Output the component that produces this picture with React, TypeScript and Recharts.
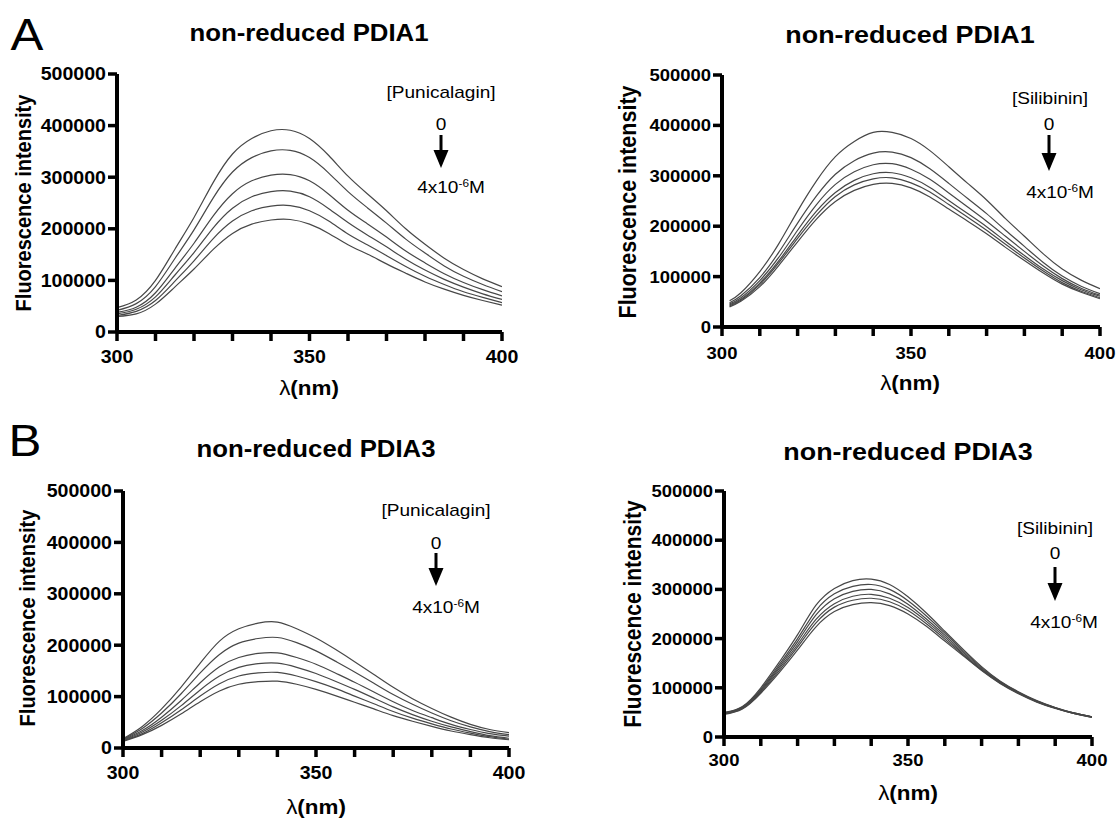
import React from 'react';
import { LineChart, Line, XAxis, YAxis, ReferenceLine } from 'recharts';

const SX = 1.12;
const FONT = '"Liberation Sans", Arial, Helvetica, sans-serif';

// ---------- data (fluorescence intensity, in thousands) ----------
const wl = [300, 305, 310, 315, 320, 325, 330, 335, 340, 345, 350, 355, 360, 365, 370, 375, 380, 385, 390, 395, 400];
const wlSil1 = [302, 305, 310, 315, 320, 325, 330, 335, 340, 345, 350, 355, 360, 365, 370, 375, 380, 385, 390, 395, 400];

// A: PDIA1 + Punicalagin
const pdia1Puni0 = [47, 62, 100, 160, 222, 290, 345, 375, 390, 391, 375, 342, 302, 268, 235, 200, 170, 143, 121, 103, 88];
const pdia1Puni1 = [42, 55, 88, 142, 198, 260, 310, 338, 351, 352, 338, 308, 272, 241, 211, 180, 153, 128, 108, 92, 78];
const pdia1Puni2 = [38, 48, 76, 123, 172, 225, 268, 293, 304, 305, 293, 267, 236, 210, 184, 157, 134, 113, 96, 82, 70];
const pdia1Puni3 = [35, 44, 68, 110, 154, 202, 240, 262, 272, 273, 262, 239, 212, 188, 165, 141, 120, 102, 87, 74, 63];
const pdia1Puni4 = [32, 40, 61, 98, 138, 181, 215, 235, 244, 245, 235, 215, 190, 169, 148, 127, 108, 92, 78, 67, 57];
const pdia1Puni5 = [30, 35, 54, 87, 122, 160, 191, 209, 217, 218, 209, 191, 169, 151, 132, 114, 97, 83, 71, 61, 52];

// A: PDIA1 + Silibinin
const pdia1Sil0 = [52, 68, 110, 165, 230, 290, 338, 368, 386, 386, 374, 350, 318, 285, 252, 215, 180, 145, 115, 93, 76];
const pdia1Sil1 = [48, 62, 98, 148, 206, 260, 303, 330, 345, 347, 336, 314, 285, 255, 225, 192, 160, 128, 101, 81, 66];
const pdia1Sil2 = [46, 58, 92, 138, 192, 243, 283, 308, 322, 324, 313, 293, 266, 238, 210, 180, 150, 121, 96, 77, 63];
const pdia1Sil3 = [44, 55, 87, 131, 182, 230, 267, 291, 304, 306, 296, 277, 251, 225, 199, 170, 142, 115, 92, 74, 61];
const pdia1Sil4 = [42, 53, 84, 127, 176, 222, 259, 282, 294, 296, 286, 268, 243, 218, 192, 164, 137, 111, 88, 71, 58];
const pdia1Sil5 = [40, 51, 80, 122, 169, 214, 249, 271, 283, 285, 276, 258, 234, 210, 185, 158, 132, 107, 85, 69, 56];

// B: PDIA3 + Punicalagin
const pdia3Puni0 = [18, 42, 76, 118, 165, 208, 232, 243, 245, 232, 214, 192, 168, 143, 118, 96, 77, 60, 46, 36, 30];
const pdia3Puni1 = [17, 38, 68, 105, 146, 182, 204, 213, 215, 205, 189, 169, 148, 126, 104, 85, 68, 53, 41, 32, 26];
const pdia3Puni2 = [16, 34, 60, 92, 127, 158, 176, 184, 185, 176, 163, 146, 128, 109, 90, 73, 59, 46, 36, 28, 23];
const pdia3Puni3 = [15, 31, 54, 82, 113, 140, 157, 164, 165, 157, 145, 130, 114, 97, 80, 65, 52, 41, 32, 24, 19];
const pdia3Puni4 = [14, 28, 49, 74, 101, 125, 140, 146, 147, 140, 129, 116, 101, 86, 71, 58, 47, 37, 29, 22, 17];
const pdia3Puni5 = [13, 26, 44, 66, 90, 111, 124, 129, 130, 124, 114, 102, 89, 76, 63, 52, 42, 33, 26, 20, 16];

// B: PDIA3 + Silibinin
const pdia3Sil0 = [50, 62, 100, 152, 208, 268, 302, 318, 321, 310, 285, 252, 215, 178, 143, 114, 92, 74, 60, 49, 41];
const pdia3Sil1 = [49, 61, 97, 147, 200, 257, 291, 306, 310, 300, 277, 246, 211, 175, 141, 113, 91, 73, 60, 49, 41];
const pdia3Sil2 = [48, 60, 95, 143, 194, 248, 281, 296, 300, 291, 270, 240, 207, 172, 139, 112, 90, 73, 59, 49, 41];
const pdia3Sil3 = [48, 59, 93, 139, 188, 239, 271, 286, 290, 282, 263, 235, 203, 169, 137, 111, 90, 72, 59, 48, 41];
const pdia3Sil4 = [47, 58, 91, 135, 183, 232, 264, 278, 282, 275, 257, 230, 199, 167, 136, 110, 89, 72, 59, 48, 40];
const pdia3Sil5 = [46, 57, 89, 131, 177, 224, 255, 269, 273, 267, 250, 225, 195, 165, 135, 109, 88, 71, 58, 48, 40];

const xTicks = [300, 310, 320, 330, 340, 350, 360, 370, 380, 390, 400];
const xLabelTicks = [300, 350, 400];
const yTicks = [0, 100000, 200000, 300000, 400000, 500000];
const X_MIN = 300, X_MAX = 400, Y_MIN = 0, Y_MAX = 500000;

const titlePDIA1 = 'non-reduced PDIA1';
const titlePDIA3 = 'non-reduced PDIA3';
const yTitle = 'Fluorescence intensity';

type Cfg = {
  x0: number; y0: number; w: number; h: number;
  L: number; R: number; T: number; B: number;
  wl: number[]; series: number[][];
  tickFs: number; xLabOff: number;
};

const YW = 70;
const XH = 40;
const TICK_PX = 9;
const AXIS_W = 4;
const TICK_W = 3.5;

function Panel({ c }: { c: Cfg }) {
  const data = c.wl.map((w, i) => {
    const r: any = { wl: w };
    c.series.forEach((s, j) => { r['s' + j] = s[i] * 1000; });
    return r;
  });
  const margin = {
    left: c.L - c.x0 - YW,
    right: c.x0 + c.w - c.R,
    top: c.T - c.y0,
    bottom: c.y0 + c.h - c.B - XH,
  };
  // tick length converted to data units for each axis
  const tY = (TICK_PX / (c.B - c.T)) * (Y_MAX - Y_MIN);
  const tX = (TICK_PX / (c.R - c.L)) * (X_MAX - X_MIN);
  const XTick = (p: any) => {
    const v = p.payload.value;
    if (!xLabelTicks.includes(v)) return <g />;
    return (
      <text transform={`translate(${p.x},${p.y + c.xLabOff}) scale(${SX},1)`} x={0} y={0} dy="0.71em"
        textAnchor="middle" fontFamily={FONT} fontWeight="bold" fontSize={c.tickFs} fill="#000" stroke="none">{v}</text>
    );
  };
  const YTick = (p: any) => (
    <text transform={`translate(${p.x},${p.y}) scale(${SX},1)`} x={0} y={0} dy="0.36em"
      textAnchor="end" fontFamily={FONT} fontWeight="bold" fontSize={c.tickFs} fill="#000" stroke="none">{p.payload.value}</text>
  );
  return (
    <div style={{ position: 'absolute', left: c.x0, top: c.y0 }}>
      <LineChart width={c.w} height={c.h} data={data} margin={margin}>
        <XAxis type="number" dataKey="wl" domain={[X_MIN, X_MAX]} ticks={xTicks} interval={0} height={XH}
          allowDataOverflow axisLine={false} tickLine={false} tickSize={TICK_PX} tick={XTick} />
        <YAxis type="number" domain={[Y_MIN, Y_MAX]} ticks={yTicks} interval={0} width={YW}
          allowDataOverflow axisLine={false} tickLine={false} tickSize={TICK_PX} tick={YTick} />
        {c.series.map((_, j) => (
          <Line key={j} dataKey={'s' + j} type="natural" stroke="#474747" strokeWidth={1.2}
            dot={false} activeDot={false} isAnimationActive={false} />
        ))}
        <ReferenceLine segment={[{ x: X_MIN, y: Y_MIN }, { x: X_MIN, y: Y_MAX }]} stroke="#000" strokeWidth={AXIS_W} ifOverflow="visible" />
        <ReferenceLine segment={[{ x: X_MIN, y: Y_MIN }, { x: X_MAX, y: Y_MIN }]} stroke="#000" strokeWidth={AXIS_W} ifOverflow="visible" />
        {xTicks.map((t) => (
          <ReferenceLine key={'xt' + t} segment={[{ x: t, y: Y_MIN }, { x: t, y: Y_MIN - tY }]} stroke="#000" strokeWidth={TICK_W} ifOverflow="visible" />
        ))}
        {yTicks.map((t) => (
          <ReferenceLine key={'yt' + t} segment={[{ x: X_MIN, y: t }, { x: X_MIN - tX, y: t }]} stroke="#000" strokeWidth={TICK_W} ifOverflow="visible" />
        ))}
      </LineChart>
    </div>
  );
}

function Txt({ x, y, fs, bold, children, rot }: any) {
  return (
    <div style={{
      position: 'absolute', left: x, top: y, fontSize: fs, fontFamily: FONT,
      fontWeight: bold ? 'bold' : 'normal', lineHeight: 1, whiteSpace: 'nowrap', color: '#000',
      transform: rot ? `translate(-50%,-50%) scaleX(${SX}) rotate(-90deg)` : `translate(-50%,-50%) scaleX(${SX})`,
    }}>{children}</div>
  );
}

function Arrow({ x, y1, y2 }: { x: number; y1: number; y2: number }) {
  const head = 18;
  return (
    <svg style={{ position: 'absolute', left: x - 8, top: y1 }} width={16} height={y2 - y1 + 1}>
      <line x1={8} y1={0} x2={8} y2={y2 - y1 - head + 2} stroke="#000" strokeWidth={3} />
      <polygon points={`0.5,${y2 - y1 - head} 15.5,${y2 - y1 - head} 8,${y2 - y1}`} fill="#000" />
    </svg>
  );
}

const Conc = () => <span>4x10<sup style={{ fontSize: '0.62em', verticalAlign: '0.55em', lineHeight: 0 }}>-6</sup>M</span>;
const XTitle = () => <span><span style={{ fontWeight: 'normal' }}>λ</span>(nm)</span>;

const panels: Cfg[] = [
  { x0: 0, y0: 0, w: 560, h: 410, L: 117, R: 502, T: 74, B: 332, wl, tickFs: 17.5, xLabOff: 8,
    series: [pdia1Puni0, pdia1Puni1, pdia1Puni2, pdia1Puni3, pdia1Puni4, pdia1Puni5] },
  { x0: 560, y0: 0, w: 556, h: 410, L: 722, R: 1100, T: 75, B: 327, wl: wlSil1, tickFs: 16.5, xLabOff: 9,
    series: [pdia1Sil0, pdia1Sil1, pdia1Sil2, pdia1Sil3, pdia1Sil4, pdia1Sil5] },
  { x0: 0, y0: 410, w: 560, h: 408, L: 123, R: 509, T: 491, B: 748, wl, tickFs: 17.5, xLabOff: 8,
    series: [pdia3Puni0, pdia3Puni1, pdia3Puni2, pdia3Puni3, pdia3Puni4, pdia3Puni5] },
  { x0: 560, y0: 410, w: 556, h: 408, L: 724, R: 1092, T: 491, B: 737, wl, tickFs: 16.5, xLabOff: 6,
    series: [pdia3Sil0, pdia3Sil1, pdia3Sil2, pdia3Sil3, pdia3Sil4, pdia3Sil5] },
];

export default function App() {
  return (
    <div style={{ position: 'absolute', left: 0, top: 0, width: 1116, height: 818, background: '#fff', overflow: 'hidden' }}>
      {panels.map((c, i) => <Panel key={i} c={c} />)}

      {/* A top-left */}
      <Txt x={27} y={35} fs={44}>A</Txt>
      <Txt x={309} y={33} fs={23} bold>{titlePDIA1}</Txt>
      <Txt x={23} y={203} fs={20} bold rot>{yTitle}</Txt>
      <Txt x={309} y={388} fs={20} bold><XTitle /></Txt>
      <Txt x={441} y={92} fs={17}>[Punicalagin]</Txt>
      <Txt x={441} y={124} fs={17}>0</Txt>
      <Arrow x={441} y1={135} y2={168} />
      <Txt x={451} y={187} fs={17}><Conc /></Txt>

      {/* A top-right */}
      <Txt x={910} y={35} fs={24} bold>{titlePDIA1}</Txt>
      <Txt x={629} y={202} fs={21.5} bold rot>{yTitle}</Txt>
      <Txt x={910} y={383} fs={20} bold><XTitle /></Txt>
      <Txt x={1050} y={98} fs={17}>[Silibinin]</Txt>
      <Txt x={1049} y={124} fs={17}>0</Txt>
      <Arrow x={1049} y1={135} y2={171} />
      <Txt x={1060} y={192} fs={17}><Conc /></Txt>

      {/* B bottom-left */}
      <Txt x={25} y={441} fs={44}>B</Txt>
      <Txt x={316} y={449} fs={23} bold>{titlePDIA3}</Txt>
      <Txt x={27} y={618} fs={20} bold rot>{yTitle}</Txt>
      <Txt x={316} y={807} fs={20} bold><XTitle /></Txt>
      <Txt x={436} y={510} fs={17}>[Punicalagin]</Txt>
      <Txt x={436} y={543} fs={17}>0</Txt>
      <Arrow x={436} y1={553} y2={586} />
      <Txt x={446} y={607} fs={17}><Conc /></Txt>

      {/* B bottom-right */}
      <Txt x={908} y={452} fs={24} bold>{titlePDIA3}</Txt>
      <Txt x={633} y={614} fs={21} bold rot>{yTitle}</Txt>
      <Txt x={908} y={793} fs={20} bold><XTitle /></Txt>
      <Txt x={1055} y={528} fs={17}>[Silibinin]</Txt>
      <Txt x={1055} y={553} fs={17}>0</Txt>
      <Arrow x={1055} y1={567} y2={601} />
      <Txt x={1064} y={622} fs={17}><Conc /></Txt>
    </div>
  );
}
